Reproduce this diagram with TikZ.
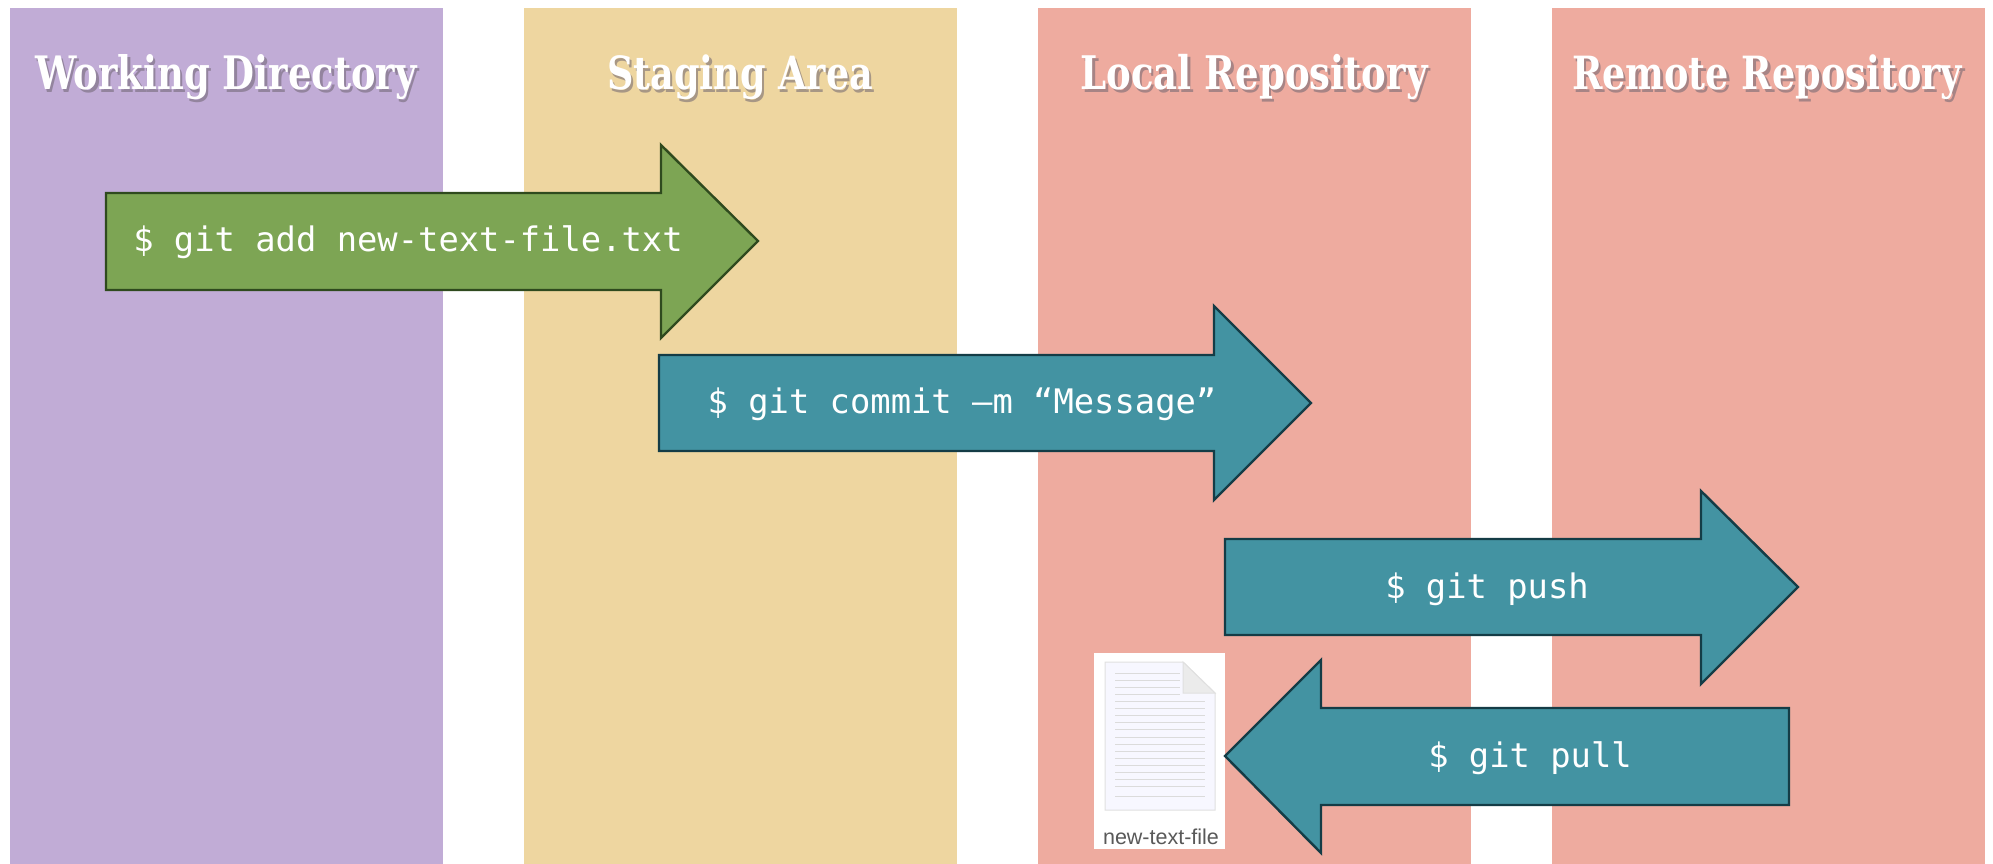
\documentclass[tikz,border=0pt]{standalone}
\usepackage{graphicx}
\usepackage{fontspec}
\setmainfont{Liberation Sans}
\newfontfamily\headfont{DejaVu Serif}
\newfontfamily\cmdfont{DejaVu Sans Mono}
\usetikzlibrary{calc}
\definecolor{purplecol}{HTML}{C1ACD6}
\definecolor{sandcol}{HTML}{EED6A0}
\definecolor{salmoncol}{HTML}{EEAB9F}
\definecolor{greenfill}{HTML}{7DA554}
\definecolor{greenedge}{HTML}{2F4A1E}
\definecolor{tealfill}{HTML}{4393A2}
\definecolor{tealedge}{HTML}{143C46}
\definecolor{shadowcol}{HTML}{6E6470}
\tikzset{
  x=1pt,y=-1pt,
  column/.style={fill=#1,draw=none},
  heading/.style={text=white,font=\headfont\bfseries\fontsize{37}{40}\selectfont,inner sep=0pt,anchor=center},
  headshadow/.style={text=shadowcol,text opacity=0.55,font=\headfont\bfseries\fontsize{37}{40}\selectfont,inner sep=0pt,anchor=center},
  cmd/.style={text=white,font=\cmdfont\fontsize{33.8}{36}\selectfont,inner sep=0pt,anchor=center},
  greenarrow/.style={fill=greenfill,draw=greenedge,line width=2.4pt,line join=miter},
  tealarrow/.style={fill=tealfill,draw=tealedge,line width=2.4pt,line join=miter},
  docline/.style={draw=#1,line width=0.9pt}
}
\begin{document}
\begin{tikzpicture}
\useasboundingbox (0,0) rectangle (1993,864);
\fill[white] (0,0) rectangle (1993,864);
% columns
\path[column=purplecol] (10,8) rectangle (443,864);
\path[column=sandcol] (524,8) rectangle (957,864);
\path[column=salmoncol] (1038,8) rectangle (1471,864);
\path[column=salmoncol] (1552,8) rectangle (1985,864);
% headings
\foreach \nm/\cx/\hw/\tx in {wd/226/381/Working Directory,sa/740/266/Staging Area,lr/1254/347/Local Repository,rr/1767/390/Remote Repository}{
  \node[headshadow,yscale=1.25] at (\cx+2.5,80) {\resizebox{\hw pt}{!}{\tx}};
  \node[heading,yscale=1.25] (\nm) at (\cx,77) {\resizebox{\hw pt}{!}{\tx}};
}
% arrows
\draw[greenarrow] (106,193) -- (661,193) -- (661,145) -- (758,241) -- (661,338) -- (661,290) -- (106,290) -- cycle;
\node[cmd] (add) at (408,242) {\$ git add new-text-file.txt};
\draw[tealarrow] (659,355) -- (1214,355) -- (1214,306) -- (1311,403) -- (1214,500) -- (1214,451) -- (659,451) -- cycle;
\node[cmd] (commit) at (962,404) {\$ git commit –m “Message”};
\draw[tealarrow] (1225,539) -- (1701,539) -- (1701,491) -- (1798,587) -- (1701,684) -- (1701,635) -- (1225,635) -- cycle;
\node[cmd] (push) at (1487,589) {\$ git push};
% file icon
\fill[white] (1094,653) rectangle (1225,849);
\path[fill=white!97!blue,draw=black!12,line width=1pt] (1105,662) -- (1183,662) -- (1215,693) -- (1215,810) -- (1105,810) -- cycle;
\path[fill=black!8,draw=black!12,line width=1pt] (1183,662) -- (1215,693) -- (1183,693) -- cycle;
\foreach \yy in {673,680,687,694}{\draw[docline=black!14] (1115,\yy) -- (1180,\yy);}
\foreach \yy in {701,708,715,722,729,737,744,751,758,765,772,779,786,796}{\draw[docline=black!14] (1115,\yy) -- (1205,\yy);}
\node[inner sep=0pt,text=black!65,font=\fontsize{21.5}{24}\selectfont] (file) at (1161,837) {new-text-file};
% pull arrow
\draw[tealarrow] (1789,708) -- (1321,708) -- (1321,660) -- (1225,756) -- (1321,853) -- (1321,805) -- (1789,805) -- cycle;
\node[cmd] (pull) at (1530,758) {\$ git pull};
\end{tikzpicture}
\end{document}
